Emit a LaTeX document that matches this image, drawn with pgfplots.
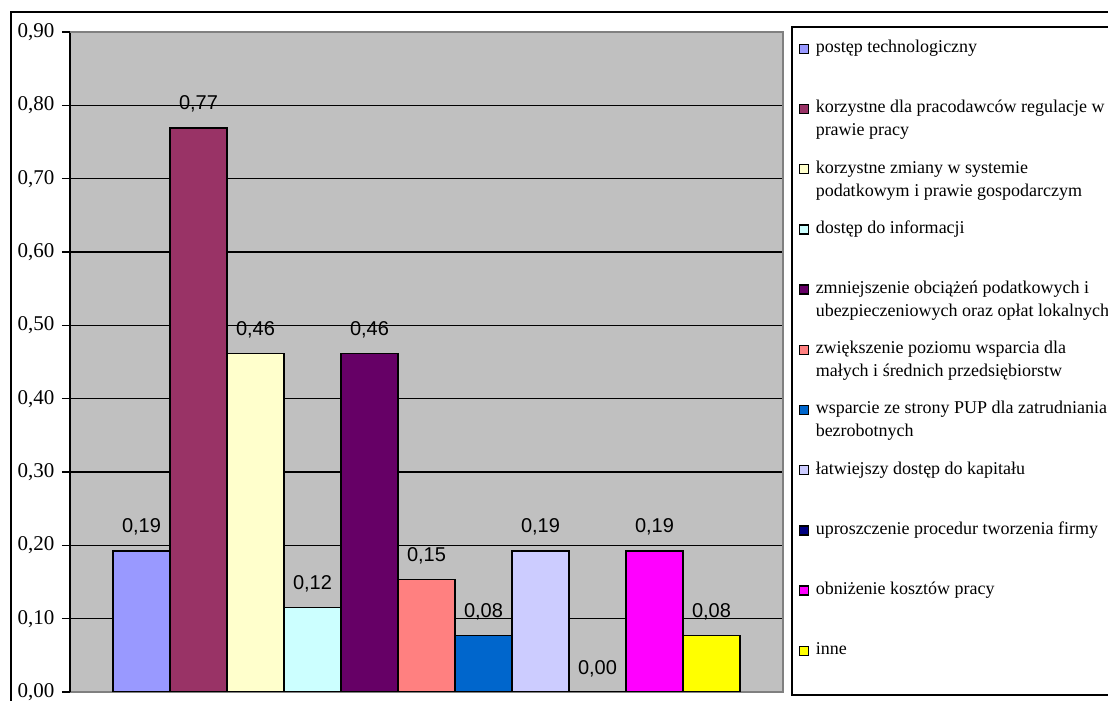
\documentclass[border=0pt]{standalone}
\usepackage{fontspec}
\setmainfont{Liberation Serif}
\newfontfamily\arialf{Liberation Sans}
\usepackage{pgfplots}
\pgfplotsset{compat=1.18}
\definecolor{c1}{HTML}{9999FF}
\definecolor{c2}{HTML}{993366}
\definecolor{c3}{HTML}{FFFFCC}
\definecolor{c4}{HTML}{CCFFFF}
\definecolor{c5}{HTML}{660066}
\definecolor{c6}{HTML}{FF8080}
\definecolor{c7}{HTML}{0066CC}
\definecolor{c8}{HTML}{CCCCFF}
\definecolor{c9}{HTML}{000080}
\definecolor{c10}{HTML}{FF00FF}
\definecolor{c11}{HTML}{FFFF00}
\definecolor{plotbg}{HTML}{C0C0C0}
\definecolor{plotborder}{HTML}{808080}
\newcommand\LE[1]{\rule[-37.2bp]{0pt}{60.2bp}\parbox[t]{360bp}{\raggedright\fontsize{18bp}{23bp}\selectfont #1}}
\pgfplotsset{
  mybar/.style={fill=#1, draw=black, line width=1.3bp,
    legend image code/.code={\draw[##1, line width=1.3bp] (0bp,-0.5bp) rectangle (9bp,8.5bp); \path[draw=none, fill=none] (-1bp,0bp) rectangle (16bp,1bp);}},
}
\begin{document}
\begin{tikzpicture}
\useasboundingbox (0,0) rectangle (1108bp,701bp);
\clip (0,0) rectangle (1108bp,701bp);
\draw[black, line width=2bp] (11bp,-5bp) -- (11bp,689bp) -- (1120bp,689bp);
\begin{axis}[
  at={(70bp,9bp)}, anchor=south west,
  scale only axis, width=713bp, height=660bp,
  xmin=-1, xmax=1, ymin=0, ymax=0.9,
  xtick=\empty,
  ytick={0,0.1,0.2,0.3,0.4,0.5,0.6,0.7,0.8,0.9},
  axis lines*=left,
  x axis line style={-, draw=plotborder, line width=2bp},
  y axis line style={-, draw=black, line width=1.5bp},
  axis background/.style={fill=plotbg, draw=plotborder, line width=2bp},
  ymajorgrids,
  major grid style={black, line width=1.5bp},
  tick align=outside,
  major tick length=8bp,
  ytick style={black, line width=1.5bp},
  yticklabel style={font=\fontsize{21bp}{24bp}\selectfont, xshift=-4bp},
  /pgf/number format/.cd, fixed, fixed zerofill, precision=2, use comma, assume math mode=true,
  /pgfplots/.cd,
  ybar=0pt, bar width=57bp,
  nodes near coords,
  every node near coord/.append style={font=\arialf\fontsize{20bp}{24bp}\selectfont, anchor=base, yshift=18bp, inner sep=0pt},
  legend cell align=left,
  legend style={at={(1,1)}, anchor=north west, xshift=8bp, yshift=6bp, draw=black, line width=1.5bp, fill=white,
    inner xsep=7bp, inner ysep=3bp, row sep=0pt,
    nodes={inner sep=0pt, text depth=, text height=},
    cells={anchor=base west}},
  after end axis/.code={\draw[plotborder, line width=2bp] (rel axis cs:0,1) -- (rel axis cs:1,1) -- (rel axis cs:1,0);},
]
\addplot[mybar=c1] coordinates {(0,0.1923)};
\addlegendentry{\LE{postęp technologiczny}}
\addplot[mybar=c2] coordinates {(0,0.7692)};
\addlegendentry{\LE{korzystne dla pracodawców regulacje w\\prawie pracy}}
\addplot[mybar=c3] coordinates {(0,0.4615)};
\addlegendentry{\LE{korzystne zmiany w systemie\\podatkowym i prawie gospodarczym}}
\addplot[mybar=c4] coordinates {(0,0.1154)};
\addlegendentry{\LE{dostęp do informacji}}
\addplot[mybar=c5] coordinates {(0,0.4615)};
\addlegendentry{\LE{zmniejszenie obciążeń podatkowych i\\ubezpieczeniowych oraz opłat lokalnych}}
\addplot[mybar=c6] coordinates {(0,0.1538)};
\addlegendentry{\LE{zwiększenie poziomu wsparcia dla\\małych i średnich przedsiębiorstw}}
\addplot[mybar=c7] coordinates {(0,0.0769)};
\addlegendentry{\LE{wsparcie ze strony PUP dla zatrudniania\\bezrobotnych}}
\addplot[mybar=c8] coordinates {(0,0.1923)};
\addlegendentry{\LE{łatwiejszy dostęp do kapitału}}
\addplot[mybar=c9] coordinates {(0,0)};
\addlegendentry{\LE{uproszczenie procedur tworzenia firmy}}
\addplot[mybar=c10] coordinates {(0,0.1923)};
\addlegendentry{\LE{obniżenie kosztów pracy}}
\addplot[mybar=c11] coordinates {(0,0.0769)};
\addlegendentry{\LE{inne}}
\end{axis}
\end{tikzpicture}
\end{document}
